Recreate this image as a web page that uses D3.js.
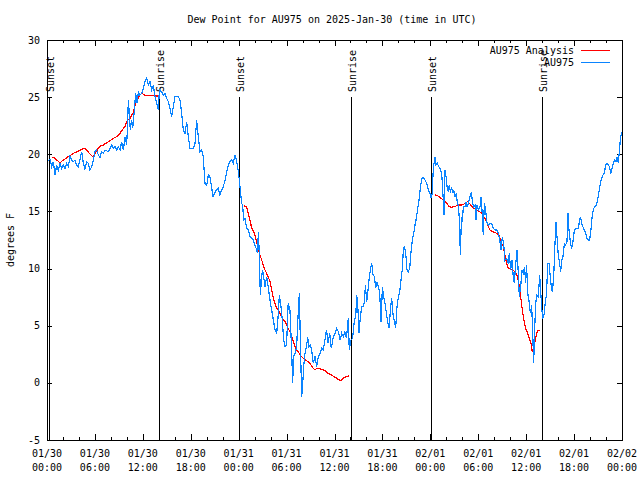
<!DOCTYPE html>
<html>
<head>
<meta charset="utf-8">
<script src="https://cdn.jsdelivr.net/npm/d3@7"></script>
<style>
  html, body { margin: 0; padding: 0; background: #fff; }
  svg { display: block; }
  text { font-family: "DejaVu Sans Mono", "Liberation Mono", monospace; font-size: 10px; fill: #000; }
</style>
</head>
<body>
<svg id="chart" width="640" height="480"></svg>
<script>
// ---------------- DATA ----------------
const chartTitle = "Dew Point for AU975 on 2025-Jan-30 (time in UTC)";
const yAxisLabel = "degrees F";
const seriesNames = ["AU975 Analysis", "AU975"];
const startUTC = Date.UTC(2025, 0, 30, 0, 0);   // hours below are offsets from this
const spanHours = 72;
const yTickValues = [-5, 0, 5, 10, 15, 20, 25, 30];

// Sun events (hours after start)
const sunEventNames = ["Sunset", "Sunrise", "Sunset", "Sunrise", "Sunset", "Sunrise"];
const sunEventHours = [0.2, 14.05, 24.08, 38.02, 48.08, 62.02];

// AU975 observations (blue)
const obsHours = [
0.08,0.38,0.58,0.79,1.0,1.21,1.42,1.63,1.84,2.05,2.25,2.46,2.67,2.88,3.09,3.30,3.51,3.71,3.92,4.13,
4.34,4.55,4.76,4.97,5.18,5.38,5.59,5.80,6.01,6.22,6.43,6.64,6.84,7.05,7.26,7.68,8.10,8.31,8.51,8.72,
8.93,9.14,9.35,9.56,9.77,9.97,10.10,10.18,10.31,10.43,10.60,10.73,10.94,11.10,11.27,11.44,11.64,11.85,12.06,12.27,
12.48,12.69,12.90,13.11,13.31,13.52,13.73,13.94,14.07,14.36,14.57,14.77,14.98,15.19,15.40,15.61,15.82,16.03,16.44,16.65,
16.86,17.07,17.28,17.49,17.70,17.90,18.32,18.53,18.74,18.95,19.16,19.37,19.57,19.78,20.0,20.2,20.4,20.6,20.8,21.0,
21.2,21.45,21.66,21.87,22.08,22.3,22.5,22.7,22.9,23.12,23.33,23.54,23.66,23.83,23.96,24.08,24.2,24.37,24.5,24.62,
24.79,25.0,25.2,25.42,25.63,25.83,26.04,26.25,26.38,26.46,26.58,26.71,26.88,27.0,27.13,27.3,27.5,27.7,27.92,28.13,
28.34,28.55,28.76,28.97,29.09,29.3,29.46,29.63,29.8,30.0,30.2,30.42,30.63,30.76,30.88,31.05,31.26,31.47,31.6,31.72,
31.89,32.0,32.14,32.3,32.5,32.64,32.8,32.97,33.14,33.35,33.56,33.77,33.97,34.18,34.39,34.6,34.8,35.0,35.2,35.4,
35.6,35.85,36.06,36.27,36.48,36.7,36.9,37.1,37.3,37.5,37.73,37.85,38.06,38.27,38.49,38.66,38.78,38.9,39.07,39.24,
39.41,39.6,39.74,39.87,40.03,40.24,40.37,40.53,40.66,40.83,41.0,41.16,41.33,41.5,41.66,41.83,42.0,42.16,42.33,42.5,
42.66,42.83,43.0,43.16,43.33,43.5,43.66,43.83,44.0,44.17,44.33,44.5,44.62,44.75,44.92,45.08,45.25,45.42,45.58,45.75,
45.92,46.08,46.25,46.42,46.58,46.75,46.92,47.13,47.34,47.54,47.75,47.96,48.09,48.25,48.34,48.46,48.59,48.71,48.88,49.05,
49.21,49.42,49.55,49.72,49.84,49.97,50.1,50.26,50.38,50.5,50.68,50.8,50.93,51.1,51.26,51.39,51.51,51.64,51.76,51.89,
52.01,52.14,52.35,52.47,52.6,52.76,52.97,53.14,53.26,53.43,53.6,53.72,53.84,54.01,54.22,54.34,54.47,54.63,54.76,54.93,
55.05,55.26,55.47,55.68,55.89,56.09,56.3,56.51,56.72,56.85,57.01,57.18,57.35,57.55,57.76,57.89,58.06,58.22,58.39,58.51,
58.68,58.85,59.02,59.14,59.31,59.48,59.64,59.81,59.93,60.06,60.19,60.35,60.52,60.69,60.81,60.94,61.06,61.19,61.35,61.52,
61.69,61.81,61.94,62.06,62.23,62.4,62.56,62.69,62.86,63.02,63.15,63.27,63.44,63.61,63.73,63.86,64.02,64.19,64.32,64.44,
64.61,64.78,64.94,65.11,65.23,65.36,65.53,65.69,65.86,66.03,66.2,66.36,66.53,66.7,66.82,66.95,67.11,67.28,67.45,67.61,
67.78,67.95,68.11,68.28,68.45,68.62,68.78,68.95,69.12,69.28,69.45,69.62,69.78,69.95,70.12,70.28,70.45,70.58,70.75,70.91,
71.08,71.25,71.41,71.54,71.66,71.79,71.95
];
const obsValues = [
19.44,19.55,18.91,19.35,18.18,19.06,18.62,19.2,18.77,19.06,18.77,19.2,18.91,19.85,19.5,19.35,19.5,19.06,18.91,19.5,
20.23,19.2,18.68,19.35,19.2,18.62,18.91,19.5,20.23,20.37,19.93,19.73,20.23,20.08,20.37,20.23,20.81,20.52,20.66,20.37,
20.66,20.37,21.1,20.37,21.54,20.81,22.7,24.75,23.58,22.12,23.0,22.27,23.87,25.33,24.45,25.47,25.18,25.33,25.77,26.35,
26.64,26.06,26.35,25.62,26.06,25.04,24.45,23.87,25.62,25.47,25.18,25.33,24.89,24.6,24.02,23.29,24.16,25.04,25.04,24.75,
23.58,22.12,21.83,22.85,21.54,20.52,20.52,20.95,23.0,21.54,20.23,20.37,19.79,17.46,17.31,18.19,18.04,17.17,16.29,16.58,
16.88,17.02,16.44,16.88,17.17,17.75,18.48,19.06,19.35,19.5,19.21,19.94,19.65,19.06,18.48,17.75,16.88,15.71,15.56,14.25,
14.4,13.52,13.38,12.79,12.65,12.5,12.06,11.63,11.33,13.23,11.33,7.69,9.29,9.88,9.29,8.42,9.29,8.42,7.25,6.38,
5.5,4.63,4.34,6.08,7.69,6.67,5.5,3.75,3.17,3.31,6.96,6.38,2.88,-0.04,2.3,2.58,3.17,6.38,7.83,3.75,
-1.2,-0.33,1.42,2.58,3.17,4.04,3.17,3.31,2.88,1.71,2.3,1.42,2.3,2.58,3.02,2.88,3.75,4.63,3.46,4.34,
3.02,4.04,4.34,4.77,4.48,3.75,4.34,4.04,4.48,3.9,5.65,2.88,3.75,3.9,5.5,5.8,7.69,6.96,4.34,5.8,
6.67,6.67,7.1,8.56,7.1,8.42,9.29,10.02,10.46,9.44,9.29,8.27,8.85,8.42,7.83,5.36,8.42,7.54,6.96,6.08,
5.36,4.77,6.38,7.4,5.94,5.36,4.77,6.67,7.54,7.98,9.0,10.02,11.63,11.92,11.33,9.88,9.73,10.02,11.48,12.5,
13.08,13.81,14.4,15.27,16.0,17.02,17.9,17.98,17.75,17.46,16.88,16.58,16.15,16.58,18.33,19.21,19.79,19.06,19.21,18.92,
18.77,18.33,16.88,14.69,18.62,18.04,17.17,16.73,17.31,16.73,17.02,16.58,16.88,16.29,16.58,15.71,15.56,14.25,11.19,14.4,
14.25,15.42,15.42,15.85,15.42,15.71,16.29,16.73,15.85,15.42,15.56,14.24,15.55,15.12,15.41,16.28,15.12,12.93,15.7,15.12,
14.1,13.8,13.95,13.95,13.51,13.37,13.37,13.08,12.35,11.62,12.78,12.2,10.74,10.89,10.45,11.32,9.87,10.74,9.28,8.7,
10.3,11.62,9.58,7.53,8.41,9.87,9.58,10.16,8.7,10.3,7.83,7.24,6.08,6.8,4.62,1.7,4.62,6.95,7.68,7.53,
9.43,8.12,6.66,5.64,5.93,7.1,7.82,10.45,10.45,9.28,8.41,7.97,9.14,12.2,14.1,12.78,11.18,10.45,9.72,10.74,
11.03,12.2,12.05,12.35,14.82,13.37,12.35,11.76,12.35,13.37,13.51,13.51,13.51,14.24,14.53,13.95,13.66,13.37,13.08,12.64,
12.49,12.49,13.37,14.68,15.26,15.41,15.55,16.0,16.72,17.45,17.89,18.18,18.32,19.05,19.2,19.05,18.9,18.32,18.76,19.2,
19.49,19.34,19.78,19.2,20.22,21.24,21.97
];

// AU975 Analysis (red) — null marks a gap between segments
const analysisHours = [
0.58,1.0,1.21,1.63,2.05,2.67,3.3,3.92,4.34,4.76,4.97,5.38,5.80,6.01,6.34,6.64,7.05,7.47,7.89,8.31,
8.72,9.14,9.56,9.77,9.97,10.18,10.39,10.60,10.81,11.02,11.23,11.44,11.64,11.85,12.27,12.69,13.11,13.52,14.02,
null,
24.71,25.0,25.2,25.42,25.63,25.83,26.04,26.25,26.46,26.67,26.88,27.08,27.3,27.5,27.7,27.92,28.13,28.34,28.55,28.76,
28.97,29.17,29.38,29.6,29.8,30.0,30.2,30.42,30.63,30.84,31.05,31.26,31.47,31.68,31.89,32.1,32.3,32.5,32.72,32.93,
33.14,33.35,33.56,33.77,33.97,34.39,34.8,35.2,35.6,36.06,36.48,36.81,37.1,37.5,37.85,
null,
48.59,48.92,49.21,49.51,49.84,50.13,50.38,50.68,51.01,51.3,51.59,51.93,52.22,52.47,52.68,52.89,53.18,53.47,53.8,54.14,
54.43,54.84,55.05,55.26,55.47,55.89,56.3,56.6,56.85,57.14,57.35,57.55,57.76,58.18,58.6,58.93,59.14,59.31,59.52,59.72,
59.93,60.19,60.4,60.6,60.77,60.94,61.1,61.27,61.44,61.73
];
const analysisValues = [
19.73,19.67,19.5,19.26,19.5,19.79,20.08,20.28,20.43,20.52,20.37,20.02,19.73,20.08,20.43,20.72,20.81,21.01,21.19,21.39,
21.54,21.83,22.27,22.41,22.85,23.05,23.14,23.43,23.64,24.31,24.6,24.98,25.18,25.33,25.18,25.12,25.12,25.1,25.1,
null,
15.48,15.42,14.83,14.25,13.52,13.32,12.94,12.36,11.63,11.19,10.75,10.31,9.88,9.58,9.29,8.86,8.13,7.4,6.96,6.52,
6.38,6.08,5.8,5.5,5.36,5.06,4.77,4.48,4.04,3.61,3.17,2.88,2.73,2.44,2.3,2.15,2.06,1.94,1.86,1.71,
1.48,1.27,1.13,1.27,1.27,1.19,1.07,0.84,0.69,0.49,0.31,0.2,0.4,0.54,0.63,
null,
16.44,16.38,16.23,16.06,15.85,15.65,15.42,15.36,15.42,15.5,15.56,15.56,15.65,15.77,15.85,15.71,15.48,15.27,15.13,14.98,
14.83,14.39,14.1,13.66,13.37,13.22,13.08,12.93,12.35,11.91,11.18,10.45,10.01,9.92,9.72,9.28,8.41,7.53,6.37,5.49,
4.76,4.33,3.89,3.45,2.72,3.16,3.6,4.18,4.56,4.62
];

const analysisColor = "#ff0000";
const obsColor = "#0a84ff";

// ---------------- CHART ----------------
const svg = d3.select("#chart");
const M = { left: 47, right: 622, top: 40, bottom: 440 };
const HOUR = 3600 * 1000;
const toDate = h => new Date(startUTC + h * HOUR);

const x = d3.scaleUtc().domain([toDate(0), toDate(spanHours)]).range([M.left, M.right]);
const y = d3.scaleLinear().domain([-5, 30]).range([M.bottom, M.top]);

// title
svg.append("text").attr("x", 332).attr("y", 23).attr("text-anchor", "middle").text(chartTitle);

// y label
svg.append("text").attr("transform", "translate(14,240) rotate(-90)")
  .attr("text-anchor", "middle").text(yAxisLabel);

const g = svg.append("g");

// ticks
const majorT = x.ticks(d3.utcHour.every(6));
const minorT = x.ticks(d3.utcHour.every(2));
const tk = g.append("g").attr("stroke", "#000").attr("stroke-width", 1).attr("shape-rendering", "crispEdges");
minorT.forEach(t => {
  const major = t.getUTCHours() % 6 === 0;
  const L = major ? 6 : 3;
  const px = Math.round(x(t)) + 0.5;
  tk.append("line").attr("x1", px).attr("x2", px).attr("y1", M.bottom).attr("y2", M.bottom - L);
  tk.append("line").attr("x1", px).attr("x2", px).attr("y1", M.top).attr("y2", M.top + L);
});
yTickValues.forEach(v => {
  const py = Math.round(y(v)) + 0.5;
  tk.append("line").attr("x1", M.left).attr("x2", M.left + 5).attr("y1", py).attr("y2", py);
  tk.append("line").attr("x1", M.right).attr("x2", M.right - 5).attr("y1", py).attr("y2", py);
});

// x tick labels
const fDay = d3.utcFormat("%m/%d"), fTime = d3.utcFormat("%H:%M");
majorT.forEach(t => {
  const tx = g.append("text").attr("text-anchor", "middle");
  tx.append("tspan").attr("x", x(t)).attr("y", 457).text(fDay(t));
  tx.append("tspan").attr("x", x(t)).attr("y", 471).text(fTime(t));
});
// y tick labels
yTickValues.forEach(v => {
  g.append("text").attr("x", 40).attr("y", y(v)).attr("dy", "0.35em")
    .attr("text-anchor", "end").text(v);
});

// sun event lines + labels
sunEventHours.forEach((h, i) => {
  const px = Math.round(x(toDate(h))) + 0.5;
  g.append("line").attr("x1", px).attr("x2", px).attr("y1", 97).attr("y2", M.bottom)
    .attr("stroke", "#000").attr("shape-rendering", "crispEdges");
  g.append("text").attr("transform", `translate(${px + 1},92) rotate(-90)`)
    .attr("dy", "0.35em").attr("text-anchor", "start").text(sunEventNames[i]);
});

// series
const obsData = obsHours.map((h, i) => ({ t: toDate(h), v: obsValues[i] }));
const anaData = analysisHours.map((h, i) => ({ t: h === null ? null : toDate(h), v: analysisValues[i] }));
const line = d3.line().defined(d => d.t !== null && d.v !== null).x(d => x(d.t)).y(d => y(d.v));

g.append("path").datum(anaData).attr("d", line).attr("fill", "none")
  .attr("stroke", analysisColor).attr("stroke-width", 1.2).attr("shape-rendering", "crispEdges");
g.append("path").datum(obsData).attr("d", line).attr("fill", "none")
  .attr("stroke", obsColor).attr("stroke-width", 1.2).attr("shape-rendering", "crispEdges");

// border
g.append("rect").attr("x", M.left + 0.5).attr("y", M.top + 0.5)
  .attr("width", M.right - M.left).attr("height", M.bottom - M.top)
  .attr("fill", "none").attr("stroke", "#000").attr("shape-rendering", "crispEdges");

// legend
const legColors = [analysisColor, obsColor];
seriesNames.forEach((name, i) => {
  const ly = 50 + i * 12;
  g.append("text").attr("x", 574).attr("y", ly).attr("dy", "0.35em").attr("text-anchor", "end").text(name);
  g.append("line").attr("x1", 581).attr("x2", 610).attr("y1", ly + 0.5).attr("y2", ly + 0.5)
    .attr("stroke", legColors[i]).attr("shape-rendering", "crispEdges");
});
</script>
</body>
</html>
